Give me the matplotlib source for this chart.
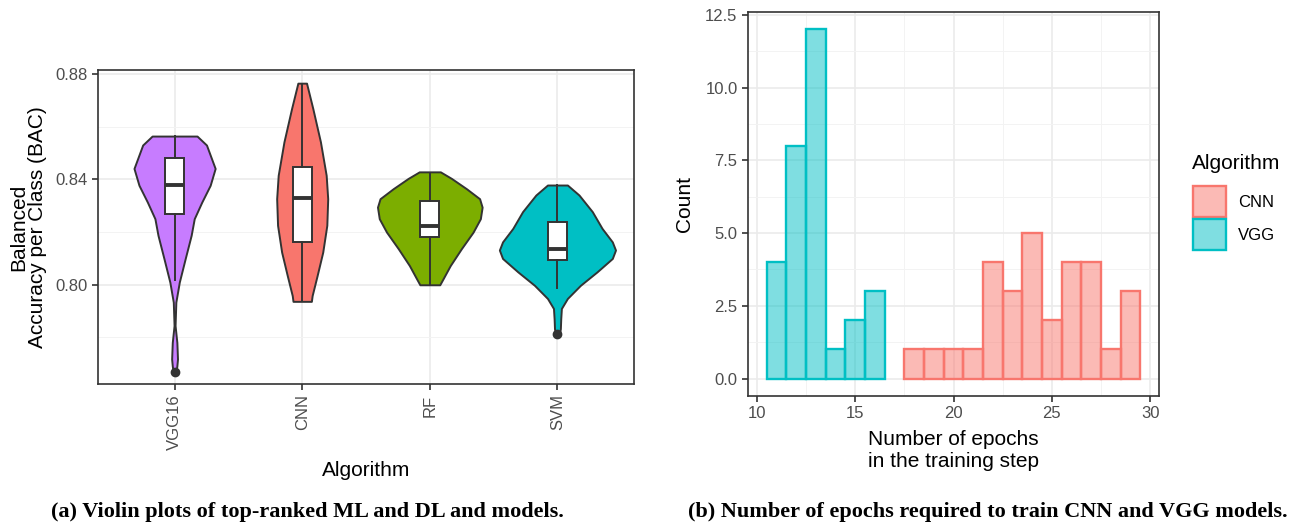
import matplotlib
matplotlib.use("Agg")
import matplotlib.pyplot as plt
from matplotlib.patches import Patch

plt.rcParams['font.family'] = ['Liberation Sans', 'DejaVu Sans']

# ---- panel (a): violin outlines (value, half width in category units)
algorithms = ['VGG16', 'CNN', 'RF', 'SVM']
violin_colors = ['#C77CFF', '#F8766D', '#7CAE00', '#00BFC4']

vgg16_vals = [0.8564, 0.8530, 0.8441, 0.8377, 0.8313, 0.8250, 0.8187, 0.8098, 0.8009, 0.7933, 0.7844, 0.7780, 0.7717, 0.7691, 0.7669]
vgg16_half = [0.176, 0.250, 0.318, 0.279, 0.213, 0.154, 0.130, 0.083, 0.037, 0.010, 0.004, 0.018, 0.023, 0.018, 0.012]

cnn_vals = [0.8765, 0.8669, 0.8542, 0.8415, 0.8326, 0.8225, 0.8123, 0.8034, 0.7958, 0.7936]
cnn_half = [0.034, 0.083, 0.143, 0.188, 0.200, 0.193, 0.161, 0.117, 0.078, 0.072]

rf_vals = [0.8428, 0.8403, 0.8364, 0.8326, 0.8294, 0.8250, 0.8199, 0.8136, 0.8072, 0.8022, 0.7999]
rf_half = [0.083, 0.170, 0.287, 0.390, 0.410, 0.396, 0.339, 0.247, 0.160, 0.104, 0.078]

svm_vals = [0.8378, 0.8340, 0.8277, 0.8213, 0.8162, 0.8131, 0.8099, 0.8048, 0.7997, 0.7947, 0.7909, 0.7870, 0.7832, 0.7813]
svm_half = [0.078, 0.169, 0.273, 0.350, 0.430, 0.455, 0.430, 0.310, 0.180, 0.078, 0.031, 0.026, 0.023, 0.016]

# box stats: q1, median, q3, lower whisker, upper whisker, outliers
box_q1 = [0.8267, 0.8160, 0.8179, 0.8093]
box_med = [0.8377, 0.8328, 0.8221, 0.8135]
box_q3 = [0.8480, 0.8446, 0.8316, 0.8239]
box_lo = [0.8019, 0.7939, 0.7999, 0.7985]
box_hi = [0.8564, 0.8762, 0.8423, 0.8377]
box_out = [[0.7669], [], [], [0.7813]]

# ---- panel (b): histogram counts per epoch
vgg_epochs = [11, 12, 13, 14, 15, 16]
vgg_counts = [4, 8, 12, 1, 2, 3]
cnn_epochs = [18, 19, 20, 21, 22, 23, 24, 25, 26, 27, 28, 29]
cnn_counts = [1, 1, 1, 1, 4, 3, 5, 2, 4, 4, 1, 3]

DARK = '#333333'
TICKC = '#4D4D4D'
MAJ = '#EBEBEB'
MINC = '#F3F3F3'

fig = plt.figure(figsize=(12.96, 5.29), dpi=100)
W, H = 1296, 529


def axes_px(l, t, r, b):
    return fig.add_axes([l / W, 1 - b / H, (r - l) / W, (b - t) / H])


def style(ax):
    for s in ax.spines.values():
        s.set_color(DARK)
        s.set_linewidth(1.2)
    ax.tick_params(axis='both', which='major', colors=DARK, labelcolor=TICKC,
                   labelsize=12, length=4, width=1.2)
    ax.tick_params(axis='both', which='minor', length=0)
    ax.grid(True, which='major', color=MAJ, linewidth=1.2)
    ax.grid(True, which='minor', color=MINC, linewidth=0.7)
    ax.set_axisbelow(True)


# ---------------- left panel ----------------
ax1 = axes_px(98, 70, 634, 384)
style(ax1)
positions = [1, 2, 3, 4]
profiles = [(vgg16_vals, vgg16_half), (cnn_vals, cnn_half), (rf_vals, rf_half), (svm_vals, svm_half)]
for pos, (vals, half), col in zip(positions, profiles, violin_colors):
    ax1.fill_betweenx(vals, [pos - h for h in half], [pos + h for h in half],
                      facecolor=col, edgecolor=DARK, linewidth=1.4, zorder=2)

stats = []
for i, name in enumerate(algorithms):
    stats.append(dict(label=name, med=box_med[i], q1=box_q1[i], q3=box_q3[i],
                      whislo=box_lo[i], whishi=box_hi[i], fliers=box_out[i]))
ax1.bxp(stats, positions=positions, widths=0.15, showcaps=False, patch_artist=True,
        boxprops=dict(facecolor='white', edgecolor=DARK, linewidth=1.4),
        medianprops=dict(color=DARK, linewidth=2.8),
        whiskerprops=dict(color=DARK, linewidth=1.4),
        flierprops=dict(marker='o', markerfacecolor=DARK, markeredgecolor=DARK, markersize=6),
        zorder=3)

ax1.set_xlim(0.4, 4.6)
ax1.set_ylim(0.7622, 0.8815)
ax1.set_yticks([0.80, 0.84, 0.88])
ax1.set_yticklabels(['0.80', '0.84', '0.88'])
ax1.set_yticks([0.78, 0.82, 0.86], minor=True)
ax1.set_xticks(positions)
ax1.set_xticklabels(algorithms, rotation=90, va='top', ha='center')
ax1.set_xlabel('Algorithm', fontsize=15, labelpad=8)
ax1.set_ylabel('Balanced\nAccuracy per Class (BAC)', fontsize=15, labelpad=6, linespacing=1.0)

# ---------------- right panel ----------------
VGGC = '#00BFC4'
CNNC = '#F8766D'
ax2 = axes_px(748, 12, 1159, 396)
style(ax2)
ax2.bar(cnn_epochs, cnn_counts, width=1.0, facecolor=CNNC, alpha=0.5, edgecolor='none', zorder=2)
ax2.bar(cnn_epochs, cnn_counts, width=1.0, facecolor='none', edgecolor=CNNC, linewidth=1.7, zorder=3)
ax2.bar(vgg_epochs, vgg_counts, width=1.0, facecolor=VGGC, alpha=0.5, edgecolor='none', zorder=2)
ax2.bar(vgg_epochs, vgg_counts, width=1.0, facecolor='none', edgecolor=VGGC, linewidth=1.7, zorder=3)
ax2.set_xlim(9.55, 30.45)
ax2.set_ylim(-0.6, 12.6)
ax2.set_xticks([10, 15, 20, 25, 30])
ax2.set_xticks([12.5, 17.5, 22.5, 27.5], minor=True)
ax2.set_yticks([0, 2.5, 5, 7.5, 10, 12.5])
ax2.set_yticklabels(['0.0', '2.5', '5.0', '7.5', '10.0', '12.5'])
ax2.set_yticks([1.25, 3.75, 6.25, 8.75, 11.25], minor=True)
ax2.set_xlabel('Number of epochs\nin the training step', fontsize=15, labelpad=6, linespacing=1.2)
ax2.set_ylabel('Count', fontsize=15, labelpad=8)

# legend: title as its own text, keys below it
fig.text(1192 / W, 1 - 163 / H, 'Algorithm', ha='left', va='center', fontsize=15)
handles = [Patch(facecolor=(0.973, 0.463, 0.427, 0.5), edgecolor=CNNC, linewidth=1.7),
           Patch(facecolor=(0.0, 0.749, 0.769, 0.5), edgecolor=VGGC, linewidth=1.7)]
fig.legend(handles, ['CNN', 'VGG'], loc='upper left',
           bbox_to_anchor=(1193 / W, 1 - 186 / H), frameon=False, fontsize=12,
           handlelength=1.95, handleheight=2.5,
           handletextpad=0.75, labelspacing=0.12, borderpad=0, borderaxespad=0)

# ---------------- captions ----------------
fig.text(307 / W, 1 - 512 / H, '(a) Violin plots of top-ranked ML and DL and models.',
         ha='center', va='center', fontsize=16, fontweight='bold', family='Liberation Serif')
fig.text(988 / W, 1 - 512 / H, '(b) Number of epochs required to train CNN and VGG models.',
         ha='center', va='center', fontsize=16, fontweight='bold', family='Liberation Serif')

fig.savefig('out.png', dpi=100)
